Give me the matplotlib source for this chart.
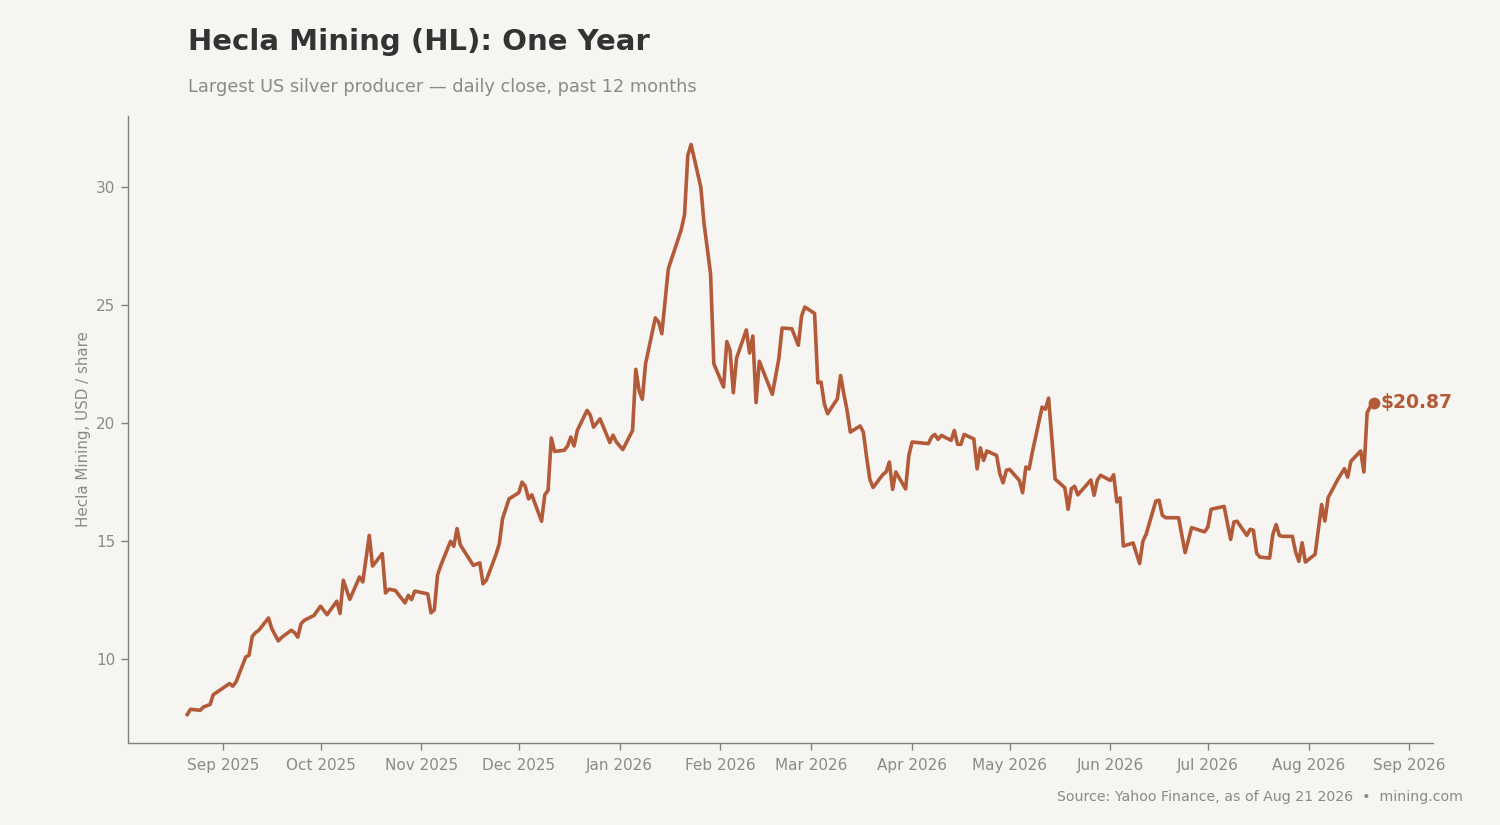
import matplotlib
matplotlib.use("Agg")
import matplotlib.pyplot as plt
import matplotlib.dates as mdates
import pandas as pd

# ---- data (vertices) ----
dates = [
    "2025-08-21", "2025-08-22", "2025-08-25", "2025-08-26", "2025-08-28", "2025-08-29",
    "2025-09-03", "2025-09-04", "2025-09-05", "2025-09-08", "2025-09-09", "2025-09-10",
    "2025-09-11", "2025-09-12", "2025-09-15", "2025-09-16", "2025-09-18", "2025-09-19",
    "2025-09-22", "2025-09-23", "2025-09-24", "2025-09-25", "2025-09-26", "2025-09-29",
    "2025-10-01", "2025-10-03", "2025-10-06", "2025-10-07", "2025-10-08", "2025-10-10",
    "2025-10-13", "2025-10-14", "2025-10-16", "2025-10-17", "2025-10-20", "2025-10-21",
    "2025-10-22", "2025-10-24", "2025-10-27", "2025-10-28", "2025-10-29", "2025-10-30",
    "2025-11-03", "2025-11-04", "2025-11-05", "2025-11-06", "2025-11-07", "2025-11-10",
    "2025-11-11", "2025-11-12", "2025-11-13", "2025-11-17", "2025-11-19", "2025-11-20",
    "2025-11-21", "2025-11-24", "2025-11-25", "2025-11-26", "2025-11-28", "2025-12-01",
    "2025-12-02", "2025-12-03", "2025-12-04", "2025-12-05", "2025-12-08", "2025-12-09",
    "2025-12-10", "2025-12-11", "2025-12-12", "2025-12-15", "2025-12-16", "2025-12-17",
    "2025-12-18", "2025-12-19", "2025-12-22", "2025-12-23", "2025-12-24", "2025-12-26",
    "2025-12-29", "2025-12-30", "2025-12-31", "2026-01-02", "2026-01-05", "2026-01-06",
    "2026-01-07", "2026-01-08", "2026-01-09", "2026-01-12", "2026-01-13", "2026-01-14",
    "2026-01-16", "2026-01-20", "2026-01-21", "2026-01-22", "2026-01-23", "2026-01-26",
    "2026-01-27", "2026-01-29", "2026-01-30", "2026-02-02", "2026-02-03", "2026-02-04",
    "2026-02-05", "2026-02-06", "2026-02-09", "2026-02-10", "2026-02-11", "2026-02-12",
    "2026-02-13", "2026-02-17", "2026-02-19", "2026-02-20", "2026-02-23", "2026-02-25",
    "2026-02-26", "2026-02-27", "2026-03-02", "2026-03-03", "2026-03-04", "2026-03-05",
    "2026-03-06", "2026-03-09", "2026-03-10", "2026-03-11", "2026-03-12", "2026-03-13",
    "2026-03-16", "2026-03-17", "2026-03-18", "2026-03-19", "2026-03-20", "2026-03-23",
    "2026-03-24", "2026-03-25", "2026-03-26", "2026-03-27", "2026-03-30", "2026-03-31",
    "2026-04-01", "2026-04-06", "2026-04-07", "2026-04-08", "2026-04-09", "2026-04-10",
    "2026-04-13", "2026-04-14", "2026-04-15", "2026-04-16", "2026-04-17", "2026-04-20",
    "2026-04-21", "2026-04-22", "2026-04-23", "2026-04-24", "2026-04-27", "2026-04-28",
    "2026-04-29", "2026-04-30", "2026-05-01", "2026-05-04", "2026-05-05", "2026-05-06",
    "2026-05-07", "2026-05-08", "2026-05-11", "2026-05-12", "2026-05-13", "2026-05-15",
    "2026-05-18", "2026-05-19", "2026-05-20", "2026-05-21", "2026-05-22", "2026-05-26",
    "2026-05-27", "2026-05-28", "2026-05-29", "2026-06-01", "2026-06-02", "2026-06-03",
    "2026-06-04", "2026-06-05", "2026-06-08", "2026-06-10", "2026-06-11", "2026-06-12",
    "2026-06-15", "2026-06-16", "2026-06-17", "2026-06-18", "2026-06-22", "2026-06-24",
    "2026-06-26", "2026-06-30", "2026-07-01", "2026-07-02", "2026-07-06", "2026-07-08",
    "2026-07-09", "2026-07-10", "2026-07-13", "2026-07-14", "2026-07-15", "2026-07-16",
    "2026-07-17", "2026-07-20", "2026-07-21", "2026-07-22", "2026-07-23", "2026-07-24",
    "2026-07-27", "2026-07-28", "2026-07-29", "2026-07-30", "2026-07-31", "2026-08-03",
    "2026-08-05", "2026-08-06", "2026-08-07", "2026-08-10", "2026-08-12", "2026-08-13",
    "2026-08-14", "2026-08-17", "2026-08-18", "2026-08-19", "2026-08-20", "2026-08-21",
]
closes = [
    7.66, 7.88, 7.84, 7.98, 8.08, 8.50,
    8.97, 8.86, 9.04, 10.10, 10.17, 10.97,
    11.13, 11.23, 11.75, 11.30, 10.78, 10.92,
    11.23, 11.13, 10.94, 11.51, 11.65, 11.86,
    12.25, 11.89, 12.46, 11.94, 13.35, 12.54,
    13.49, 13.28, 15.25, 13.95, 14.48, 12.81,
    12.97, 12.92, 12.39, 12.71, 12.53, 12.89,
    12.77, 11.97, 12.09, 13.57, 13.98, 15.00,
    14.79, 15.54, 14.85, 13.98, 14.09, 13.20,
    13.35, 14.45, 14.90, 15.96, 16.80, 17.06,
    17.51, 17.33, 16.80, 16.97, 15.85, 16.97,
    17.16, 19.38, 18.81, 18.86, 19.04, 19.42,
    19.04, 19.70, 20.55, 20.34, 19.84, 20.19,
    19.19, 19.50, 19.21, 18.89, 19.70, 22.29,
    21.40, 21.02, 22.53, 24.47, 24.30, 23.80,
    26.55, 28.22, 28.86, 31.36, 31.82, 30.01,
    28.46, 26.34, 22.53, 21.54, 23.47, 23.09,
    21.30, 22.77, 23.96, 22.98, 23.70, 20.88,
    22.63, 21.23, 22.74, 24.04, 24.01, 23.31,
    24.55, 24.93, 24.66, 21.72, 21.75, 20.83,
    20.41, 21.04, 22.03, 21.26, 20.55, 19.63,
    19.89, 19.63, 18.58, 17.63, 17.28, 17.83,
    17.94, 18.36, 17.20, 17.94, 17.22, 18.64,
    19.21, 19.14, 19.42, 19.53, 19.32, 19.49,
    19.28, 19.70, 19.11, 19.11, 19.53, 19.34,
    18.07, 18.96, 18.43, 18.83, 18.64, 17.86,
    17.48, 18.01, 18.05, 17.58, 17.06, 18.15,
    18.07, 18.78, 20.69, 20.60, 21.07, 17.64,
    17.27, 16.36, 17.23, 17.33, 16.97, 17.60,
    16.95, 17.60, 17.80, 17.58, 17.82, 16.67,
    16.84, 14.80, 14.93, 14.06, 15.00, 15.30,
    16.71, 16.74, 16.10, 16.00, 16.00, 14.52,
    15.58, 15.40, 15.61, 16.36, 16.48, 15.08,
    15.82, 15.85, 15.25, 15.51, 15.47, 14.50,
    14.33, 14.29, 15.30, 15.71, 15.25, 15.21,
    15.21, 14.55, 14.15, 14.94, 14.12, 14.45,
    16.56, 15.86, 16.85, 17.63, 18.08, 17.72,
    18.39, 18.83, 17.94, 20.45, 20.72, 20.87,
]
y_ticks = [10, 15, 20, 25, 30]

title = "Hecla Mining (HL): One Year"
subtitle = "Largest US silver producer \u2014 daily close, past 12 months"
y_label = "Hecla Mining, USD / share"
source = "Source: Yahoo Finance, as of Aug 21 2026  \u2022  mining.com"

# ---- style ----
BG = "#f6f5f1"
LINE = "#b35a38"
GRAY = "#8a8a8a"
SPINE = "#808080"

plt.rcParams["font.family"] = ["DejaVu Sans"]

x = pd.to_datetime(dates)

fig = plt.figure(figsize=(15, 8.25), dpi=100, facecolor=BG)
ax = fig.add_axes([0.0853, 0.0994, 0.870, 0.760])
ax.set_facecolor(BG)

ax.plot(x, closes, color=LINE, linewidth=2.6, solid_joinstyle="round")
ax.plot(x[-1:], closes[-1:], "o", color=LINE, markersize=7.5)
ax.annotate(f"${closes[-1]:.2f}", xy=(x[-1], closes[-1]), xytext=(5, 0),
            textcoords="offset points", va="center", ha="left",
            fontsize=13.5, fontweight="bold", color=LINE)

ax.set_yticks(y_ticks)
ax.xaxis.set_major_locator(mdates.MonthLocator())
ax.xaxis.set_major_formatter(mdates.DateFormatter("%b %Y"))

for s in ["top", "right"]:
    ax.spines[s].set_visible(False)
for s in ["left", "bottom"]:
    ax.spines[s].set_color(SPINE)
    ax.spines[s].set_linewidth(1.0)
ax.tick_params(axis="both", colors=SPINE, labelcolor=GRAY, labelsize=11, length=5, width=1)
ax.tick_params(axis="y", pad=4)
ax.tick_params(axis="x", pad=6)

ax.set_ylabel(y_label, color=GRAY, fontsize=10.9, labelpad=4)

fig.text(0.1253, 0.966, title, fontsize=21, fontweight="bold", color="#333333",
         ha="left", va="top")
fig.text(0.1253, 0.906, subtitle, fontsize=12.8, color=GRAY, ha="left", va="top")
fig.text(0.975, 0.034, source, fontsize=10.2, color=GRAY, ha="right", va="center")

fig.savefig("out.png", dpi=100, facecolor=BG)
